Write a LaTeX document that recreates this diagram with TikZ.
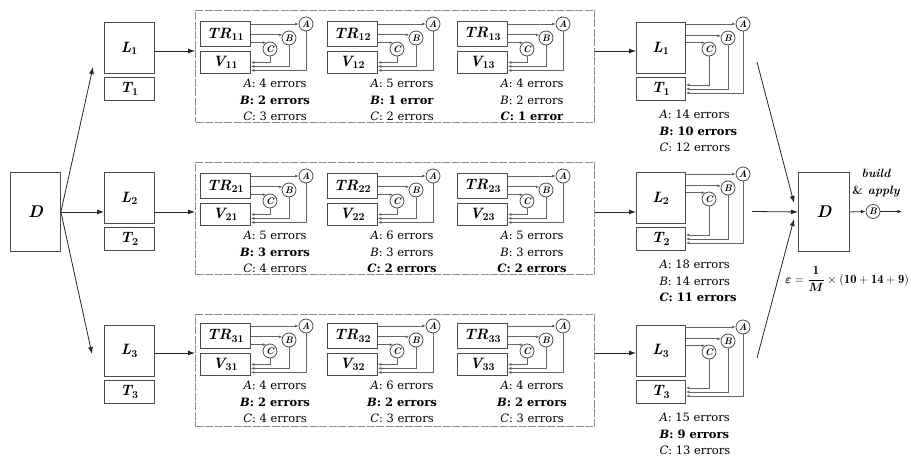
\documentclass[tikz,border=0pt]{standalone}
\usetikzlibrary{arrows.meta,calc}
\usepackage{amsmath}
\usepackage{fontspec}
\newfontfamily\dvs{DejaVu Serif}
\newcommand\sbx[1]{\textsubscript{\upshape #1}}
\newcommand\hlt[1]{\textbf{#1}}
\newcommand\ublk[6]{%
\node[lb, minimum width=50pt, minimum height=25pt] (tr#1) at (#2,#3) {TR\sbx{#1}};
\node[lb, minimum width=50pt, minimum height=22pt] (v#1) at (#2,#3+30) {V\sbx{#1}};
\node[crc] (c#1) at (#2+70,#3+28) {C};
\node[crc] (b#1) at (#2+89,#3+17) {B};
\node[crc] (a#1) at (#2+106,#3+3) {A};
\draw[sar] (tr#1.east |- a#1.west) -- (a#1.west);
\draw[sar] (tr#1.east |- b#1.155) -- (b#1.155);
\draw[sar] (tr#1.east |- c#1.121) -- (c#1.121);
\draw[sar] (c#1.south) |- (v#1.east);
\draw[sar] (b#1.south) |- ($(v#1.east)+(0,4)$);
\draw[sar] (a#1.south) |- ($(v#1.east)+(0,8)$);
\node[txt] (t#1) at (#2+75,#3+79) {#4\\#5\\#6};
}
\newcommand\rblk[5]{%
\node[lb, minimum width=49pt, minimum height=51pt] (rl#1) at (636,#2) {L\sbx{#1}};
\node[lb, minimum width=49pt, minimum height=23pt] (rt#1) at (636,#2+55) {T\sbx{#1}};
\node[crc] (rc#1) at (709,#2+27) {C};
\node[crc] (rb#1) at (728,#2+16) {B};
\node[crc] (ra#1) at (743,#2+2) {A};
\draw[sar] (rl#1.east |- ra#1.west) -- (ra#1.west);
\draw[sar] (rl#1.east |- rb#1.163) -- (rb#1.163);
\draw[sar] (rl#1.east |- rc#1.121) -- (rc#1.121);
\draw[sar] (rc#1.south) |- ($(rt#1.east)+(0,-4)$);
\draw[sar] (rb#1.south) |- (rt#1.east);
\draw[sar] (ra#1.south) |- ($(rt#1.east)+(0,4)$);
\node[txt, align=left, anchor=west] (rx#1) at (656,#2+109) {#3\\#4\\#5};
}
\newcommand\lblk[2]{%
\node[lb, minimum width=50pt, minimum height=51pt] (ll#1) at (104,#2) {L\sbx{#1}};
\node[lb, minimum width=50pt, minimum height=23pt] (lt#1) at (104,#2+55) {T\sbx{#1}};
}
\begin{document}
\begin{tikzpicture}[x=1pt,y=-1pt,
  bx/.style={draw=black!70, line width=0.9pt, inner sep=0pt, anchor=north west},
  lb/.style={bx, font=\fontsize{15}{18}\selectfont\bfseries\itshape},
  crc/.style={circle, draw=black!70, line width=0.8pt, minimum size=14pt, inner sep=0pt, font=\fontsize{9.5}{10}\selectfont\bfseries\itshape},
  sar/.style={draw=black!60, line width=0.8pt, -{Latex[length=3.5pt,width=3pt]}},
  arr/.style={draw=black!85, line width=0.8pt, -{Latex[length=7pt,width=5pt]}},
  oar/.style={draw=black!85, line width=0.8pt, -{Latex[length=4.5pt,width=3.5pt]}},
  cont/.style={draw=black!45, line width=1pt, dash pattern=on 8pt off 1.5pt, inner sep=0pt, anchor=north west},
  txt/.style={font=\dvs\fontsize{11.5}{16.5}\selectfont, align=center}]
\useasboundingbox (0,0) rectangle (910,457);

% containers
\node[cont, minimum width=399pt, minimum height=112pt] (k1) at (195,10) {};
\node[cont, minimum width=399pt, minimum height=112pt] (k2) at (195,162) {};
\node[cont, minimum width=399pt, minimum height=112pt] (k3) at (195,314) {};

% left data set
\node[lb, minimum width=50pt, minimum height=79pt, font=\fontsize{17}{20}\selectfont\bfseries\itshape] (D) at (10,172) {D};
\lblk{1}{22}
\lblk{2}{172}
\lblk{3}{325}

% inner blocks
\ublk{11}{200}{21}{\textit{A}: 4 errors}{\hlt{\textit{B}: 2 errors}}{\textit{C}: 3 errors}
\ublk{12}{327}{21}{\textit{A}: 5 errors}{\hlt{\textit{B}: 1 error}}{\textit{C}: 2 errors}
\ublk{13}{457}{21}{\textit{A}: 4 errors}{\textit{B}: 2 errors}{\hlt{\textit{C}: 1 error}}
\ublk{21}{200}{173}{\textit{A}: 5 errors}{\hlt{\textit{B}: 3 errors}}{\textit{C}: 4 errors}
\ublk{22}{327}{173}{\textit{A}: 6 errors}{\textit{B}: 3 errors}{\hlt{\textit{C}: 2 errors}}
\ublk{23}{457}{173}{\textit{A}: 5 errors}{\textit{B}: 3 errors}{\hlt{\textit{C}: 2 errors}}
\ublk{31}{200}{323}{\textit{A}: 4 errors}{\hlt{\textit{B}: 2 errors}}{\textit{C}: 4 errors}
\ublk{32}{327}{323}{\textit{A}: 6 errors}{\hlt{\textit{B}: 2 errors}}{\textit{C}: 3 errors}
\ublk{33}{457}{323}{\textit{A}: 4 errors}{\hlt{\textit{B}: 2 errors}}{\textit{C}: 3 errors}

% right blocks
\rblk{1}{22}{\textit{A}: 14 errors}{\hlt{\textit{B}: 10 errors}}{\textit{C}: 12 errors}
\rblk{2}{172}{\textit{A}: 18 errors}{\textit{B}: 14 errors}{\hlt{\textit{C}: 11 errors}}
\rblk{3}{325}{\textit{A}: 15 errors}{\hlt{\textit{B}: 9 errors}}{\textit{C}: 13 errors}

% final D
\node[lb, minimum width=51pt, minimum height=79pt, font=\fontsize{17}{20}\selectfont\bfseries\itshape] (D2) at (798,172) {D};
\node[crc] (ob) at (873,211.5) {B};
\node[font=\fontsize{12}{16.5}\selectfont\bfseries\itshape, align=center] (ba) at (876,183) {build\\{\upshape\&} apply};
\node[font=\fontsize{12.5}{15}\selectfont] (eq) at (847,279) {$\boldsymbol{\varepsilon}=\dfrac{\mathbf{1}}{\boldsymbol{M}}\times(\mathbf{10}+\mathbf{14}+\mathbf{9})$};

% coordinates
\coordinate (r1) at (0,51);
\coordinate (r3) at (0,353);
\coordinate (f1) at (93,67);
\coordinate (f3) at (92,354);
\coordinate (s1) at (757,62);
\coordinate (e1) at (794,203);
\coordinate (s2) at (752,211.5);
\coordinate (s3) at (757,358);
\coordinate (e3) at (794,219);
\coordinate (oe) at (902,211.5);

% connectors
\draw[arr] (D.east) -- (f1);
\draw[arr] (D.east) -- (f3);
\draw[arr] (D.east) -- (ll2.west |- D.east);
\draw[arr] (ll1.east |- r1) -- (k1.west |- r1);
\draw[arr] (ll2.east |- D.east) -- (k2.west |- D.east);
\draw[arr] (ll3.east |- r3) -- (k3.west |- r3);
\draw[arr] (k1.east |- r1) -- (rl1.west |- r1);
\draw[arr] (k2.east |- D.east) -- (rl2.west |- D.east);
\draw[arr] (k3.east |- r3) -- (rl3.west |- r3);
\draw[arr] (s1) -- (e1);
\draw[arr] (s2) -- (D2.west);
\draw[arr] (s3) -- (e3);
\draw[oar] (D2.east) -- (ob.west);
\draw[oar] (ob.east) -- (oe);
\end{tikzpicture}
\end{document}
